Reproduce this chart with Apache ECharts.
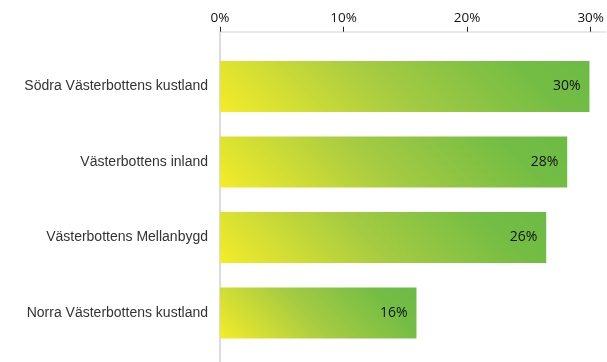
<!DOCTYPE html>
<html>
<head>
<meta charset="utf-8">
<script src="https://cdn.jsdelivr.net/npm/echarts@6/dist/echarts.min.js"></script>
<style>
  html, body { margin: 0; padding: 0; background: #fff; }
  #chart { width: 607px; height: 362px; }
</style>
</head>
<body>
<div id="chart"></div>
<script>
const regions = [
  "Södra Västerbottens kustland",
  "Västerbottens inland",
  "Västerbottens Mellanbygd",
  "Norra Västerbottens kustland",
];
const shares = [29.9, 28.1, 26.4, 15.9];
const tickValues = [0, 10, 20, 30];

const YELLOW = "#f4ec29";
const GREEN = "#6cbb45";
const BAR_H = 51;
const AXIS_Y = 32;

const chart = echarts.init(document.getElementById("chart"), null, { renderer: "canvas" });

// Diagonal gradient per bar, roughly 45 degrees in pixel space.
function barGradient(w) {
  const a = (w + BAR_H) / 2;
  return new echarts.graphic.LinearGradient(0, 1, a / w, 1 - a / BAR_H, [
    { offset: 0, color: YELLOW },
    { offset: 0.45, color: "#a6cb42" },
    { offset: 0.82, color: "#74bd44" },
    { offset: 1, color: GREEN },
  ]);
}

const option = {
  animation: false,
  grid: { left: 220, right: 0, top: 48.75, bottom: 11.25 },
  xAxis: {
    type: "value",
    position: "top",
    offset: 17,
    min: 0,
    max: 31.2,
    splitLine: { show: false },
    axisLine: { show: true, lineStyle: { color: "#e2e2e2", width: 1.5 } },
    axisTick: { show: true, length: 5, customValues: tickValues, lineStyle: { color: "#222" } },
    axisLabel: {
      customValues: tickValues,
      formatter: "{value}%",
      margin: 7,
      color: "#111",
      fontSize: 13.5,
      fontFamily: "Open Sans",
    },
  },
  yAxis: {
    type: "category",
    data: regions,
    inverse: true,
    axisLine: { show: false },
    axisTick: { show: false },
    axisLabel: {
      margin: 12,
      padding: [4, 0, 0, 0],
      color: "#333",
      fontSize: 14,
      fontFamily: "Liberation Sans",
    },
  },
  series: [
    {
      type: "bar",
      data: shares,
      barWidth: BAR_H,
      itemStyle: { color: GREEN },
      label: {
        show: true,
        position: "insideRight",
        distance: 9,
        padding: [5, 0, 0, 0],
        formatter: (p) => Math.round(p.value) + "%",
        color: "#111",
        fontSize: 14,
        fontFamily: "Open Sans",
      },
    },
  ],
};

chart.setOption(option);

const x0 = chart.convertToPixel({ xAxisIndex: 0 }, 0);
chart.setOption({
  series: [
    {
      data: shares.map((v) => ({
        value: v,
        itemStyle: { color: barGradient(chart.convertToPixel({ xAxisIndex: 0 }, v) - x0) },
      })),
    },
  ],
  graphic: [
    {
      type: "line",
      shape: { x1: x0, y1: AXIS_Y, x2: x0, y2: 362 },
      style: { stroke: "#dcdcdc", lineWidth: 2 },
      z: 1,
    },
  ],
});
</script>
</body>
</html>
